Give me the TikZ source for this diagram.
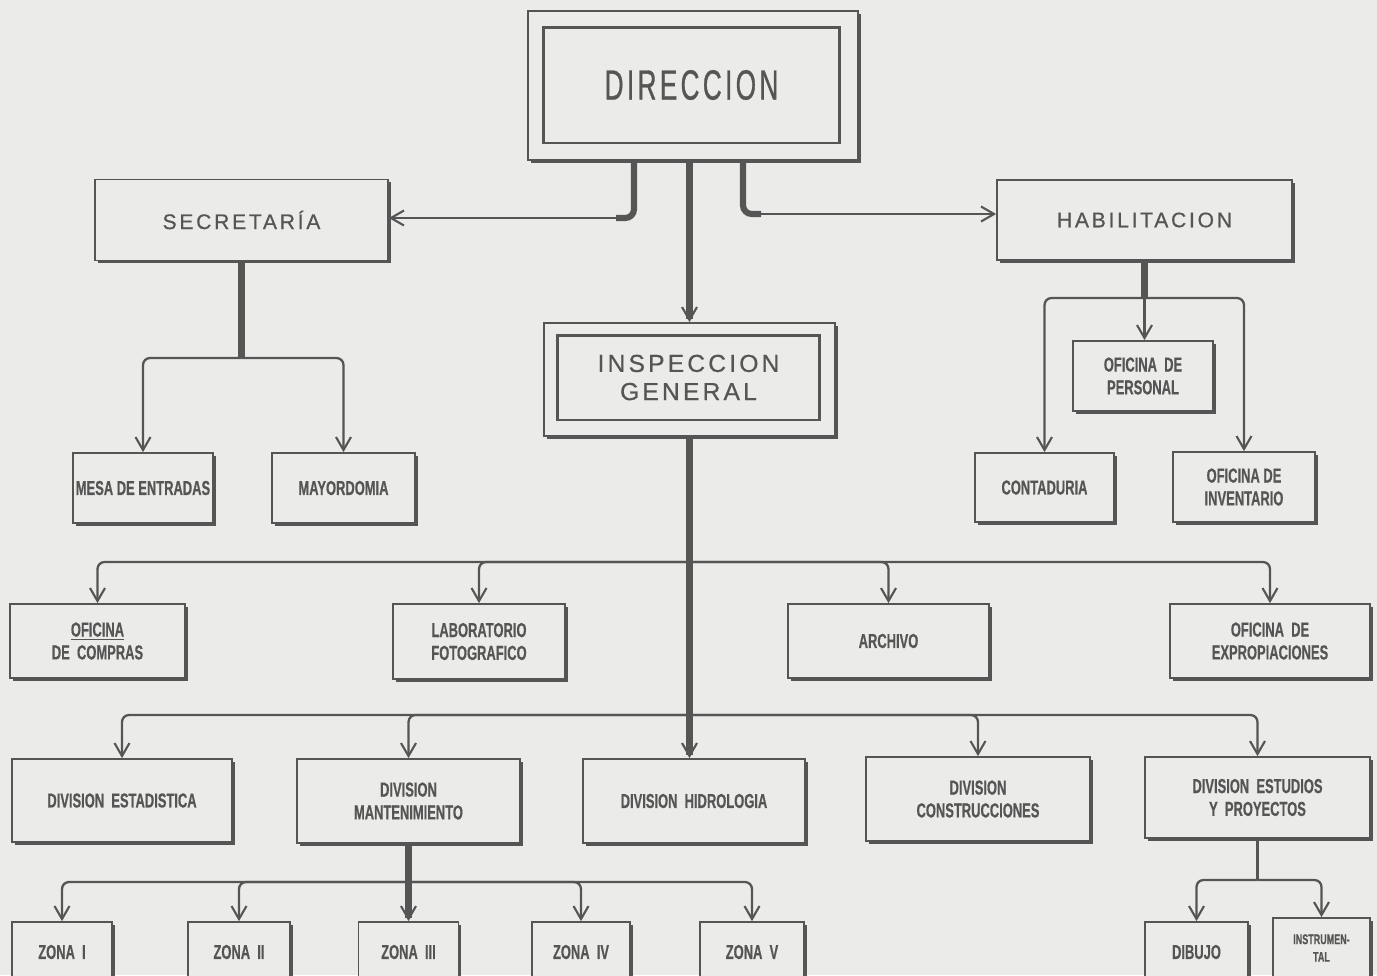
\documentclass[tikz,border=0pt]{standalone}
\usepackage{fontspec}
\usetikzlibrary{arrows.meta, shadows}
\newfontfamily\titlefont[FakeStretch=0.62,LetterSpace=8,FakeBold=0.8]{Liberation Sans}
\newfontfamily\headfont[LetterSpace=13,FakeBold=0.6]{Liberation Sans}
\newfontfamily\boxfont[FakeStretch=0.64,FakeBold=0.5]{Liberation Sans}
\definecolor{paper}{HTML}{EBEBE9}
\definecolor{ink}{HTML}{555555}

\begin{document}
\begin{tikzpicture}[x=0.02cm,y=-0.02cm,
    >={Straight Barb[length=2.6mm,width=3mm,line width=1.2pt]},
    box/.style={draw=ink, line width=1pt, fill=paper, text=ink, align=center, inner sep=0pt,
        drop shadow={shadow xshift=1.6pt, shadow yshift=-1.6pt, fill=ink, opacity=1},
        font=\boxfont\bfseries\fontsize{11.5}{13}\selectfont},
    headbox/.style={box, font=\headfont\fontsize{12}{14}\selectfont},
    innerbox/.style={draw=ink, line width=1.7pt, text=ink, align=center, inner sep=0pt},
    trunk/.style={draw=ink, line width=3.5pt, rounded corners=5pt},
    arr/.style={draw=ink, line width=1.3pt, rounded corners=4pt, ->},
    link/.style={draw=ink, line width=1.3pt}]
    \useasboundingbox (0,0) rectangle (1377,975);
    \fill[paper] (0,0) rectangle (1377,975);

    % top level
    \node[box, minimum width=6.6cm, minimum height=2.98cm] (dir) at (693,85.5) {};
    \node[innerbox, minimum width=5.94cm, minimum height=2.32cm,
        font=\titlefont\fontsize{24}{26}\selectfont] (dirin) at (691.5,85) {DIRECCION};
    \node[headbox, minimum width=5.86cm, minimum height=1.62cm] (secr) at (241.5,220) {SECRETARÍA};
    \node[headbox, minimum width=5.9cm, minimum height=1.6cm] (habil) at (1144.5,220) {HABILITACION};
    \node[box, minimum width=5.82cm, minimum height=2.26cm] (insp) at (689.5,379.5) {};
    \node[innerbox, minimum width=5.26cm, minimum height=1.7cm,
        font=\headfont\fontsize{14}{16}\selectfont] (inspin) at (688.5,377.5) {INSPECCION\\GENERAL};

    % secretaria and habilitacion offices
    \node[box, minimum width=2.8cm, minimum height=1.4cm] (mesa) at (143,488) {MESA DE ENTRADAS};
    \node[box, minimum width=2.86cm, minimum height=1.4cm] (mayor) at (343.5,488) {MAYORDOMIA};
    \node[box, minimum width=2.8cm, minimum height=1.4cm] (pers) at (1143,376) {OFICINA\ \ DE\\PERSONAL};
    \node[box, minimum width=2.78cm, minimum height=1.38cm] (conta) at (1044.5,487.5) {CONTADURIA};
    \node[box, minimum width=2.84cm, minimum height=1.4cm] (inven) at (1244,487) {OFICINA DE\\INVENTARIO};

    % offices under inspeccion
    \node[box, minimum width=3.5cm, minimum height=1.48cm] (compras) at (97.5,641) {\underline{OFICINA}\\DE\ \ COMPRAS};
    \node[box, minimum width=3.44cm, minimum height=1.5cm] (lab) at (479,641.5) {LABORATORIO\\FOTOGRAFICO};
    \node[box, minimum width=4.02cm, minimum height=1.48cm] (archivo) at (888.5,641) {ARCHIVO};
    \node[box, minimum width=4.0cm, minimum height=1.48cm] (exprop) at (1270,641) {OFICINA\ \ DE\\EXPROPIACIONES};

    % divisions
    \node[box, minimum width=4.4cm, minimum height=1.66cm] (divest) at (122,800.5) {DIVISION\ \ ESTADISTICA};
    \node[box, minimum width=4.46cm, minimum height=1.68cm] (mant) at (408.5,801) {DIVISION\\MANTENIMIENTO};
    \node[box, minimum width=4.44cm, minimum height=1.68cm] (hid) at (694,801) {DIVISION\ \ HIDROLOGIA};
    \node[box, minimum width=4.48cm, minimum height=1.68cm] (cons) at (978,799) {DIVISION\\CONSTRUCCIONES};
    \node[box, minimum width=4.5cm, minimum height=1.62cm] (estud) at (1257.5,797.5) {DIVISION\ \ ESTUDIOS\\Y\ \ PROYECTOS};

    % zones
    \node[box, minimum width=2.0cm, minimum height=1.2cm] (zona1) at (62,952) {ZONA\ \ I};
    \node[box, minimum width=2.04cm, minimum height=1.2cm] (zona2) at (239,952) {ZONA\ \ II};
    \node[box, minimum width=2.0cm, minimum height=1.2cm] (zona3) at (408.5,952) {ZONA\ \ III};
    \node[box, minimum width=1.96cm, minimum height=1.2cm] (zona4) at (581,952) {ZONA\ \ IV};
    \node[box, minimum width=2.08cm, minimum height=1.2cm] (zona5) at (752,952) {ZONA\ \ V};
    \node[box, minimum width=2.06cm, minimum height=1.2cm] (dibujo) at (1196.5,952) {DIBUJO};
    \node[box, minimum width=1.94cm, minimum height=1.2cm,
        font=\boxfont\bfseries\fontsize{8}{10}\selectfont] (instr) at (1321.5,948) {INSTRUMEN-\\TAL};

    % direccion connectors
    \coordinate (dlk) at (616,218);
    \coordinate (drk) at (761,214);
    \draw[trunk] (dir.south -| 634,0) |- (dlk);
    \draw[arr] (dlk) -- (dlk -| secr.east);
    \draw[trunk] (dir.south -| 743,0) |- (drk);
    \draw[arr] (drk) -- (drk -| habil.west);
    \draw[trunk, ->] (insp.north |- dir.south) -- (insp.north);

    % secretaria
    \coordinate (sb) at (241.5,358);
    \draw[trunk] (secr.south) -- (sb);
    \draw[arr] (sb) -| (mesa.north);
    \draw[arr] (sb) -| (mayor.north);

    % habilitacion
    \coordinate (hb) at (1144.5,298);
    \draw[trunk] (habil.south) -- (hb);
    \draw[arr] (hb) -- (hb |- pers.north);
    \draw[arr] (hb) -| (conta.north);
    \draw[arr] (hb) -| (inven.north);

    % inspeccion general
    \coordinate (ib1) at (690,562);
    \coordinate (ib2) at (690,715);
    \draw[trunk, ->] (insp.south) -- (insp.south |- hid.north);
    \foreach \n in {compras,lab,archivo,exprop}
        \draw[arr] (ib1) -| (\n.north);
    \foreach \n in {divest,mant,cons,estud}
        \draw[arr] (ib2) -| (\n.north);

    % mantenimiento
    \coordinate (mb) at (408.5,882);
    \draw[trunk, ->] (mant.south) -- (zona3.north);
    \foreach \n in {zona1,zona2,zona4,zona5}
        \draw[arr] (mb) -| (\n.north);

    % estudios y proyectos
    \coordinate (eb) at (1257.5,880);
    \draw[link] (estud.south) -- (eb);
    \draw[arr] (eb) -| (dibujo.north);
    \draw[arr] (eb) -| (instr.north);
\end{tikzpicture}
\end{document}
